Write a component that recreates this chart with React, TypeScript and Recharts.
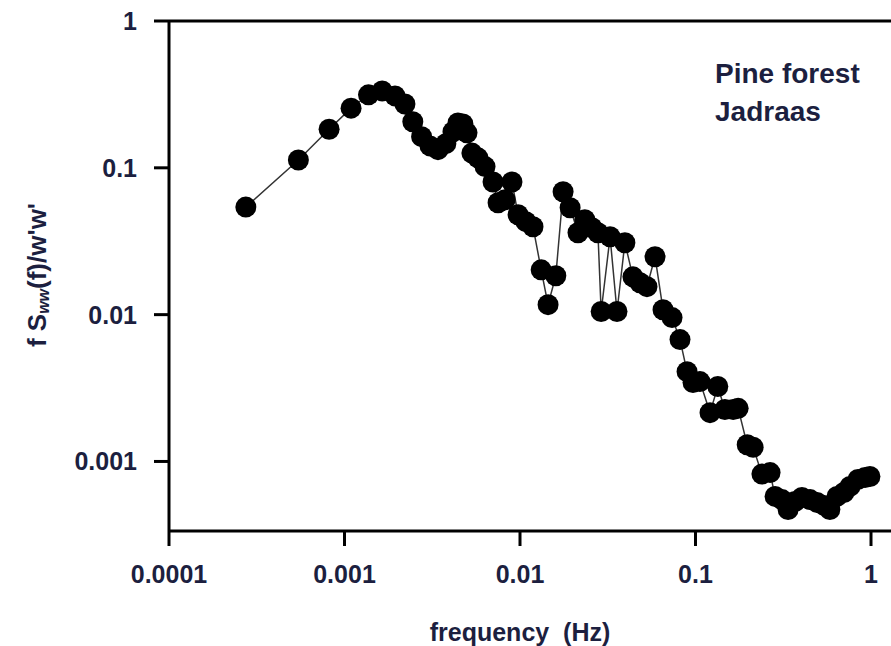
import React from 'react';
import { LineChart, Line, XAxis, YAxis, ReferenceLine, Customized } from 'recharts';

// spectrum (log-log)
const frequency = [
  0.000274, 0.000546, 0.000817, 0.00109, 0.00137, 0.00164, 0.00194, 0.00221, 0.00245, 0.00275,
  0.00307, 0.00341, 0.00378, 0.00415, 0.00443, 0.00473, 0.00499, 0.00532, 0.00576, 0.00632,
  0.00702, 0.0075, 0.00822, 0.009, 0.00975, 0.0108, 0.01186, 0.0132, 0.01445, 0.016,
  0.0176, 0.0193, 0.0214, 0.0234, 0.0257, 0.0278, 0.029, 0.0326, 0.0357, 0.0396,
  0.044, 0.0483, 0.0529, 0.0588, 0.0653, 0.0735, 0.0816, 0.0895, 0.0968, 0.106,
  0.121, 0.134, 0.147, 0.164, 0.175, 0.197, 0.213, 0.239, 0.266, 0.284,
  0.311, 0.337, 0.369, 0.404, 0.449, 0.492, 0.54, 0.583, 0.64, 0.701,
  0.759, 0.843, 0.925, 0.986,
];
const spectrum = [
  0.054, 0.113, 0.183, 0.255, 0.314, 0.334, 0.309, 0.272, 0.206, 0.163,
  0.141, 0.133, 0.146, 0.176, 0.202, 0.199, 0.173, 0.126, 0.117, 0.102,
  0.08, 0.0578, 0.0606, 0.08, 0.0479, 0.043, 0.0397, 0.0202, 0.0117, 0.0184,
  0.0687, 0.0535, 0.0361, 0.0443, 0.0391, 0.0361, 0.0105, 0.0339, 0.0105, 0.0309,
  0.0181, 0.0165, 0.0155, 0.0248, 0.0108, 0.00955, 0.00676, 0.00409, 0.00345, 0.0035,
  0.00215, 0.00324, 0.00226, 0.00226, 0.0023, 0.0013, 0.00125, 0.00082, 0.00084, 0.000578,
  0.00055, 0.00047, 0.000534, 0.000569, 0.00055, 0.000526, 0.000502, 0.00047, 0.000578, 0.000615,
  0.000676, 0.000755, 0.000778, 0.00079,
];

const xTicks = [0.0001, 0.001, 0.01, 0.1, 1];
const xTickLabels = ['0.0001', '0.001', '0.01', '0.1', '1'];
const yTicks = [0.001, 0.01, 0.1, 1];
const yTickLabels = ['0.001', '0.01', '0.1', '1'];

const data = frequency.map((f, i) => ({ f, v: spectrum[i] }));

const textColor = '#1c1f3f';
const font = '"Liberation Sans", Arial, sans-serif';
const tickStyle = { fontSize: 25, fontWeight: 'bold', fill: textColor, fontFamily: font };

const Annotations = () => (
  <g fontFamily={font} fontWeight="bold" fill={textColor}>
    {/* y axis title */}
    <text transform="rotate(-90 37 275)" x={37} y={275} textAnchor="middle" dominantBaseline="central" fontSize={26}>
      <tspan>f S</tspan>
      <tspan fontSize={16} fontStyle="italic" dy={6}>ww</tspan>
      <tspan dy={-6}>(f)/w'w'</tspan>
    </text>
    {/* x axis title */}
    <text x={520} y={641} textAnchor="middle" fontSize={25} style={{ whiteSpace: 'pre' }}>frequency  (Hz)</text>
    {/* site label */}
    <text x={715} y={83} fontSize={28}>Pine forest</text>
    <text x={715} y={121} fontSize={28}>Jadraas</text>
  </g>
);

export default function App() {
  return (
    <div style={{ position: 'absolute', left: 0, top: 0, width: 891, height: 646, background: '#fff' }}>
      <LineChart width={891} height={646} data={data} margin={{ top: 21, right: 0, left: 0, bottom: 0 }}>
        <XAxis
          dataKey="f"
          type="number"
          scale="log"
          domain={[0.0001, 1.3]}
          ticks={xTicks}
          allowDataOverflow
          height={115}
          axisLine={{ stroke: '#000', strokeWidth: 3 }}
          tickLine={{ stroke: '#000', strokeWidth: 3 }}
          tickSize={15}
          tickMargin={19}
          tick={tickStyle}
          tickFormatter={(val: number) => xTickLabels[xTicks.indexOf(val)] ?? String(val)}
        />
        <YAxis
          dataKey="v"
          type="number"
          scale="log"
          domain={[0.000336, 1]}
          ticks={yTicks}
          allowDataOverflow
          width={169}
          axisLine={{ stroke: '#000', strokeWidth: 3 }}
          tickLine={{ stroke: '#000', strokeWidth: 3 }}
          tickSize={15}
          tickMargin={17}
          tick={tickStyle}
          tickFormatter={(val: number) => yTickLabels[yTicks.indexOf(val)] ?? String(val)}
        />
        <ReferenceLine y={1} stroke="#000" strokeWidth={3} />
        <Line
          dataKey="v"
          stroke="#333"
          strokeWidth={1.5}
          dot={{ r: 10.5, fill: '#000', stroke: 'none' }}
          isAnimationActive={false}
        />
        <Customized component={Annotations} />
      </LineChart>
    </div>
  );
}
